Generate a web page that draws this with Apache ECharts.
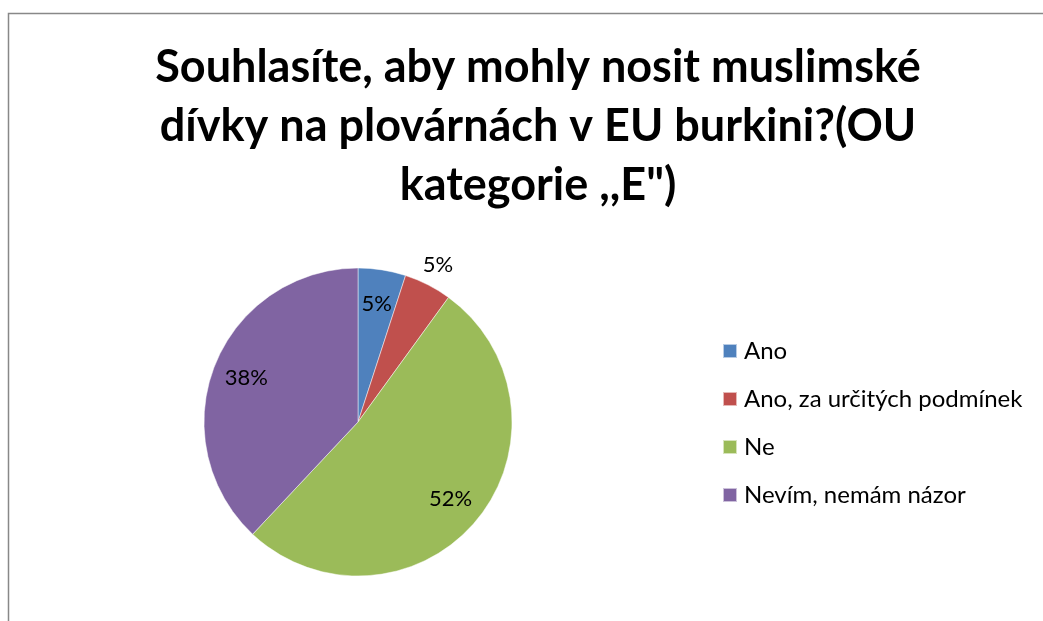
<!DOCTYPE html>
<html>
<head>
<meta charset="utf-8">
<script src="https://cdn.jsdelivr.net/npm/echarts@6/dist/echarts.min.js"></script>
<style>html,body{margin:0;padding:0;background:#fff;}#c{width:1043px;height:621px;}</style>
</head>
<body>
<div id="c"></div>
<script>
const titleText = 'Souhlasíte, aby mohly nosit muslimské\ndívky na plovárnách v EU burkini?(OU\nkategorie ,,E")';
const categories = ['Ano', 'Ano, za určitých podmínek', 'Ne', 'Nevím, nemám názor'];
const values = [5, 5, 52, 38];
const colors = ['#4F81BD', '#C0504D', '#9BBB59', '#8064A2'];

const FONT = 'Lato';
const center = [358, 422];

const mainData = categories.map((n, i) => ({ name: n, value: values[i], itemStyle: { color: colors[i] } }));
const labelDataA = categories.map((n, i) => ({ name: n, value: values[i], label: { show: i !== 1 } }));
const labelDataB = categories.map((n, i) => ({ name: n, value: values[i], label: { show: i === 1 } }));

const labelStyle = { position: 'inside', formatter: '{d}%', color: '#000', fontFamily: FONT, fontSize: 22 };

const chart = echarts.init(document.getElementById('c'));
chart.setOption({
  animation: false,
  backgroundColor: '#fff',
  title: {
    text: titleText,
    left: 533,
    top: 33,
    textAlign: 'center',
    textStyle: { fontFamily: FONT, fontWeight: 'bold', fontSize: 45, lineHeight: 59, color: '#000' }
  },
  legend: {
    orient: 'vertical',
    left: 722,
    top: 339,
    padding: 0,
    icon: 'rect',
    itemWidth: 14,
    itemHeight: 14,
    itemGap: 24,
    data: categories,
    textStyle: { fontFamily: FONT, fontSize: 24, lineHeight: 24, color: '#000', padding: [0, 0, 0, 2] }
  },
  graphic: [{
    type: 'rect', silent: true,
    shape: { x: 8.5, y: 13.5, width: 1200, height: 800 },
    style: { fill: 'none', stroke: '#888', lineWidth: 1.5 }
  }],
  series: [
    {
      type: 'pie', center: center, radius: [0, 154], startAngle: 90, clockwise: true,
      label: { show: false }, labelLine: { show: false },
      itemStyle: { borderColor: 'rgba(255,255,255,0.6)', borderWidth: 0.8 },
      emphasis: { disabled: true },
      data: mainData
    },
    {
      type: 'pie', center: center, radius: [0, 234], startAngle: 90, clockwise: true, silent: true,
      itemStyle: { color: 'transparent' }, labelLine: { show: false }, emphasis: { disabled: true },
      label: labelStyle, data: labelDataA
    },
    {
      type: 'pie', center: center, radius: [0, 346], startAngle: 90, clockwise: true, silent: true,
      itemStyle: { color: 'transparent' }, labelLine: { show: false }, emphasis: { disabled: true },
      label: labelStyle, data: labelDataB
    }
  ]
});
</script>
</body>
</html>
